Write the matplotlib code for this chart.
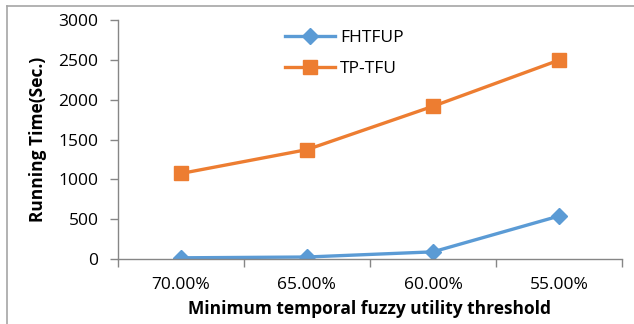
import matplotlib.pyplot as plt
from matplotlib.lines import Line2D

thresholds = ["70.00%", "65.00%", "60.00%", "55.00%"]
fhtfup = [15, 25, 90, 540]
tp_tfu = [1075, 1375, 1920, 2500]

plt.rcParams['font.family'] = ['Open Sans', 'DejaVu Sans']

axis_grey = '#868686'
blue = '#5B9BD5'
orange = '#ED7D31'

fig = plt.figure(figsize=(6.34, 3.24), dpi=100)
ax = fig.add_axes([0.186, 0.2006, 0.795, 0.7365])

x = list(range(len(thresholds)))
ax.plot(x, fhtfup, color=blue, lw=2.4, marker='D', markersize=8, label='FHTFUP')
ax.plot(x, tp_tfu, color=orange, lw=2.4, marker='s', markersize=9.5, label='TP-TFU')

ax.set_xlim(-0.5, len(thresholds) - 0.5)
ax.set_ylim(0, 3000)
ax.set_yticks(range(0, 3001, 500))

# category labels in the middle, tick marks between categories
ax.set_xticks(x)
ax.set_xticklabels(thresholds)
ax.set_xticks([i - 0.5 for i in range(len(thresholds) + 1)], minor=True)
ax.tick_params(axis='x', which='major', length=0, pad=13, labelsize=12.5)
ax.tick_params(axis='x', which='minor', length=6, width=1, color=axis_grey, direction='out')
ax.tick_params(axis='y', length=6, width=1, color=axis_grey, labelsize=12.5, pad=8)

for side in ['top', 'right']:
    ax.spines[side].set_visible(False)
for side in ['left', 'bottom']:
    ax.spines[side].set_color(axis_grey)
    ax.spines[side].set_linewidth(1)

ax.set_ylabel('Running Time(Sec.)', fontsize=12.5, fontweight='bold', labelpad=8)
ax.set_xlabel('Minimum temporal fuzzy utility threshold', fontsize=12.5,
              fontweight='bold', labelpad=5)

ax.legend(loc='upper left', bbox_to_anchor=(0.30, 1.025), frameon=False,
          fontsize=12.5, handlelength=2.9, labelspacing=0.85, handletextpad=0.3)

# chart area border (left and top edges)
fig.add_artist(Line2D([0.011, 0.011], [0, 0.982], color='#A6A6A6', lw=1.2,
                      transform=fig.transFigure))
fig.add_artist(Line2D([0.011, 1.0], [0.982, 0.982], color='#A6A6A6', lw=1.2,
                      transform=fig.transFigure))

fig.savefig('out.png', dpi=100)
